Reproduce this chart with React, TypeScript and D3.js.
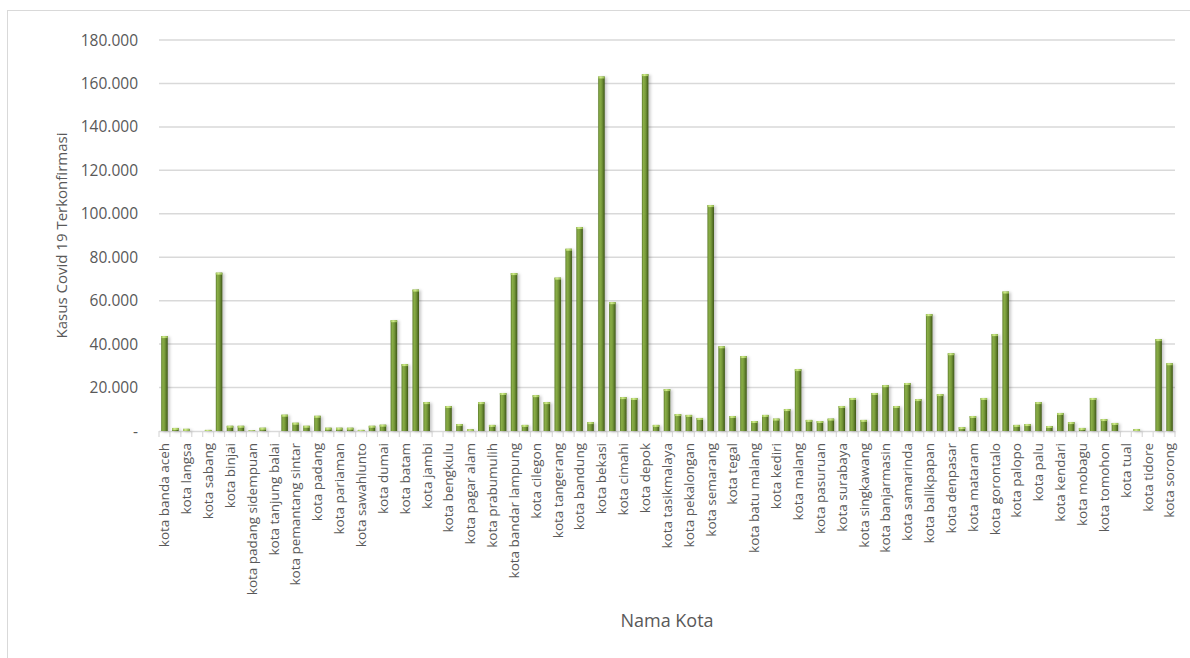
import React from "react";
import * as d3 from "d3";

const cities: string[] = [
  "kota banda aceh", "kota lhokseumawe", "kota langsa", "kota subulussalam", "kota sabang",
  "kota medan", "kota binjai", "kota gunungsitoli", "kota padang sidempuan", "kota sibolga",
  "kota tanjung balai", "kota tebing tinggi", "kota pemantang sintar", "kota bukittinggi", "kota padang",
  "kota padang panjang", "kota pariaman", "kota payakumbuh", "kota sawahlunto", "kota solok",
  "kota dumai", "kota pekanbaru", "kota batam", "kota tanjung pinang", "kota jambi",
  "kota sungai penuh", "kota bengkulu", "kota lubuklinggau", "kota pagar alam", "kota palembang",
  "kota prabumulih", "kota pangkal pinang", "kota bandar lampung", "kota metro", "kota cilegon",
  "kota serang", "kota tangerang", "kota tangerang selatan", "kota bandung", "kota banjar",
  "kota bekasi", "kota bogor", "kota cimahi", "kota cirebon", "kota depok",
  "kota sukabumi", "kota tasikmalaya", "kota magelang", "kota pekalongan", "kota salatiga",
  "kota semarang", "kota surakarta", "kota tegal", "kota yogyakarta", "kota batu malang",
  "kota blitar", "kota kediri", "kota madiun", "kota malang", "kota mojokerto",
  "kota pasuruan", "kota probolinggo", "kota surabaya", "kota pontianak", "kota singkawang",
  "kota palangka raya", "kota banjarmasin", "kota banjarbaru", "kota samarinda", "kota bontang",
  "kota balikpapan", "kota tarakan", "kota denpasar", "kota bima", "kota mataram",
  "kota kupang", "kota gorontalo", "kota makassar", "kota palopo", "kota parepare",
  "kota palu", "kota bitung", "kota kendari", "kota baubau", "kota mobagu",
  "kota manado", "kota tomohon", "kota ambon", "kota tual", "kota ternate",
  "kota tidore", "kota jayapura", "kota sorong",
];

const cases: number[] = [
  43700, 1400, 1000, 0, 500,
  72900, 2400, 2400, 300, 1500,
  0, 7500, 3800, 2400, 7000,
  1500, 1500, 1500, 500, 2400,
  2900, 51000, 30800, 65100, 13300,
  0, 11500, 3200, 800, 13300,
  2800, 17500, 72700, 2800, 16500,
  13300, 70600, 83900, 93900, 4100,
  163200, 59300, 15600, 15200, 164300,
  2800, 19300, 7800, 7400, 6000,
  104000, 39000, 6900, 34500, 4600,
  7400, 5700, 10100, 28500, 5100,
  4600, 5700, 11500, 15200, 5100,
  17500, 21100, 11500, 22100, 14700,
  53800, 17000, 35800, 1800, 6900,
  15200, 44600, 64200, 2800, 3200,
  13300, 2300, 8300, 4100, 1400,
  15200, 5500, 3700, 0, 900,
  0, 42300, 31200,
];

const yTicks: number[] = [0, 20000, 40000, 60000, 80000, 100000, 120000, 140000, 160000, 180000];

const yTitle = "Kasus Covid 19 Terkonfirmasi";
const xTitle = "Nama Kota";

const locale = d3.formatLocale({ decimal: ",", thousands: ".", grouping: [3], currency: ["Rp", ""] });
const fmt = locale.format(",.0f");

export default function App() {
  const W = 1190;
  const H = 658;
  const left = 159;
  const right = 1175;
  const top = 40;
  const bottom = 431;
  const font = "'Open Sans', 'Noto Sans', sans-serif";
  const textColor = "#595959";

  const x = d3.scaleBand<string>().domain(cities).range([left, right]).paddingInner(0.4).paddingOuter(0.2);
  const xStep = d3.scaleLinear().domain([0, cities.length]).range([left, right]);
  const y = d3.scaleLinear().domain([0, 180000]).range([bottom, top]);

  const boundaries = d3.range(cities.length + 1);

  return (
    <svg width={W} height={H} style={{ position: "absolute", left: 0, top: 0, background: "#fff" }}>
      <defs>
        <linearGradient id="barGrad" x1="0" x2="1" y1="0" y2="0">
          <stop offset="0%" stopColor="#5d7c2c" />
          <stop offset="25%" stopColor="#8aae47" />
          <stop offset="55%" stopColor="#779a3a" />
          <stop offset="100%" stopColor="#3f5718" />
        </linearGradient>
        <linearGradient id="capGrad" x1="0" x2="1" y1="0" y2="0">
          <stop offset="0%" stopColor="#9fc45a" />
          <stop offset="40%" stopColor="#d2ec8c" />
          <stop offset="100%" stopColor="#8db34a" />
        </linearGradient>
        <filter id="shadow" x="-50%" y="-5%" width="250%" height="110%">
          <feDropShadow dx="2" dy="1" stdDeviation="1.5" floodColor="#000" floodOpacity="0.22" />
        </filter>
      </defs>
      <rect x={7.5} y={10.5} width={W + 10} height={H + 10} fill="#fff" stroke="#d9d9d9" strokeWidth={1} />

      {yTicks.map((t) => (
        <g key={t}>
          {t > 0 && (
            <line x1={left} x2={right} y1={y(t)} y2={y(t)} stroke="#d9d9d9" strokeWidth={1.5} />
          )}
          <text
            x={138}
            y={y(t)}
            dy="0.36em"
            textAnchor="end"
            fontFamily={font}
            fontSize={15.5}
            fill={textColor}
          >
            {t === 0 ? "-" : fmt(t)}
          </text>
        </g>
      ))}

      <line x1={left} x2={right} y1={bottom + 0.5} y2={bottom + 0.5} stroke="#d9d9d9" strokeWidth={1.5} />
      {boundaries.map((i) => (
        <line key={i} x1={xStep(i)} x2={xStep(i)} y1={bottom} y2={bottom + 6} stroke="#d9d9d9" strokeWidth={1.2} />
      ))}

      <g filter="url(#shadow)">
        {cities.map((c, i) => {
          const v = cases[i];
          if (v <= 0) return null;
          const bx = x(c) as number;
          const bw = x.bandwidth();
          const by = y(v);
          const bh = bottom - by;
          return (
            <g key={c}>
              <rect x={bx} y={by} width={bw} height={bh} fill="url(#barGrad)" />
              <rect x={bx} y={by} width={bw} height={Math.min(2, bh)} fill="url(#capGrad)" />
            </g>
          );
        })}
      </g>

      {cities.map((c, i) =>
        i % 2 === 0 ? (
          <text
            key={c}
            transform={`translate(${(x(c) as number) + x.bandwidth() / 2},443) rotate(-90)`}
            dy="0.36em"
            textAnchor="end"
            fontFamily={font}
            fontSize={13.5}
            fill={textColor}
          >
            {c}
          </text>
        ) : null
      )}

      <text
        transform={`translate(62,${(top + bottom) / 2}) rotate(-90)`}
        dy="0.36em"
        textAnchor="middle"
        fontFamily={font}
        fontSize={15}
        fill={textColor}
      >
        {yTitle}
      </text>
      <text x={(left + right) / 2} y={627} textAnchor="middle" fontFamily={font} fontSize={18} fill={textColor}>
        {xTitle}
      </text>
    </svg>
  );
}
